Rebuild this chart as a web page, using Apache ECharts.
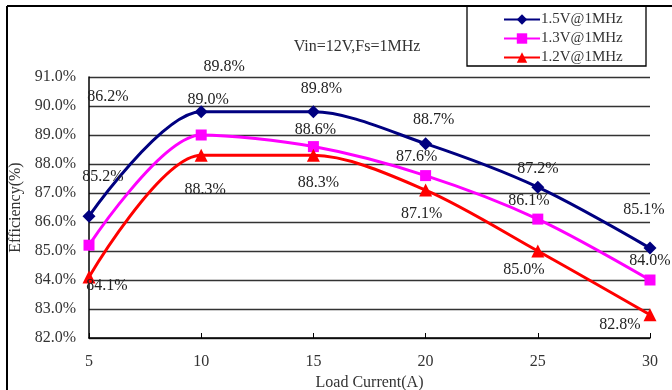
<!DOCTYPE html>
<html><head><meta charset="utf-8">
<script src="https://cdn.jsdelivr.net/npm/echarts@6/dist/echarts.min.js"></script>
<style>html,body{margin:0;padding:0;background:#fff}#c{width:672px;height:390px}</style>
</head><body><div id="c"></div>
<script>
const loadCurrent = [5, 10, 15, 20, 25, 30];
const eff15 = [86.2, 89.8, 89.8, 88.7, 87.2, 85.1];
const eff13 = [85.2, 89.0, 88.6, 87.6, 86.1, 84.0];
const eff12 = [84.1, 88.3, 88.3, 87.1, 85.0, 82.8];
const seriesNames = ['1.5V@1MHz', '1.3V@1MHz', '1.2V@1MHz'];
const yTicks = [82, 83, 84, 85, 86, 87, 88, 89, 90, 91];
const xTicks = [5, 10, 15, 20, 25, 30];

// label offsets (styling only, in px)
const off15 = [[19,-119],[23,-45],[8,-23],[8,-24],[0,-18],[-6,-38]];
const off13 = [[14,-68],[7,-35],[2,-17],[-9,-19],[-9,-18],[0,-19]];
const off12 = [[18,9],[4,34],[5,27],[-4,24],[-14,19],[-30,10]];

const font = '"Liberation Serif","DejaVu Serif",serif';
function build(vals, offs) {
  return vals.map((v, i) => ({ value: [loadCurrent[i], v], label: { offset: offs[i] } }));
}
function mk(name, vals, offs, color, symbol, size) {
  return {
    name, type: 'line', smooth: 0.3, data: build(vals, offs),
    symbol, symbolSize: size, lineStyle: { color, width: 3 }, itemStyle: { color },
    label: { show: true, position: 'inside', color: '#222', fontSize: 16, fontFamily: font,
      formatter: p => p.value[1].toFixed(1) + '%' },
    z: 3
  };
}
const chart = echarts.init(document.getElementById('c'));
chart.setOption({
  animation: false,
  backgroundColor: '#fff',
  grid: { left: 89, right: 22, top: 77, bottom: 52, outerBoundsMode: 'none', containLabel: false },
  title: { text: 'Vin=12V,Fs=1MHz', left: 352, top: 34, textAlign: 'center',
    textStyle: { fontFamily: font, fontSize: 16, fontWeight: 'normal', color: '#333' } },
  legend: {
    orient: 'vertical', left: 498, top: 7, itemWidth: 36, itemHeight: 13, itemGap: 4,
    data: seriesNames,
    textStyle: { fontFamily: font, fontSize: 15, lineHeight: 13, color: '#333', padding: [0,0,0,-4] }
  },
  xAxis: {
    type: 'value', min: xTicks[0], max: xTicks[xTicks.length-1], interval: 5,
    name: 'Load Current(A)', nameLocation: 'middle', nameGap: 33,
    nameTextStyle: { fontFamily: font, fontSize: 16, color: '#333' },
    axisLine: { lineStyle: { color: '#000', width: 1.5 } },
    axisTick: { inside: true, length: 5, lineStyle: { color: '#000' } },
    axisLabel: { fontFamily: font, fontSize: 16, color: '#333', margin: 16 },
    splitLine: { show: false }
  },
  yAxis: {
    type: 'value', min: yTicks[0], max: yTicks[yTicks.length-1], interval: 1,
    name: 'Efficiency(%)', nameLocation: 'middle', nameGap: 61, nameRotate: 90,
    nameTextStyle: { fontFamily: font, fontSize: 16, color: '#333' },
    axisLine: { show: true, lineStyle: { color: '#000', width: 1.5 } },
    axisTick: { show: false },
    axisLabel: { fontFamily: font, fontSize: 16, color: '#333', margin: 13,
      formatter: v => v.toFixed(1) + '%' },
    splitLine: { show: true, lineStyle: { color: '#333', width: 1.3 } }
  },
  graphic: [
    { type: 'line', shape: { x1: 7, y1: 6, x2: 672, y2: 6 }, style: { stroke: '#000', lineWidth: 2 } },
    { type: 'line', shape: { x1: 7, y1: 6, x2: 7, y2: 390 }, style: { stroke: '#000', lineWidth: 2 } },
    { type: 'rect', shape: { x: 467, y: 6, width: 179, height: 60 }, style: { fill: 'none', stroke: '#000', lineWidth: 1.3 }, z: 10 }
  ],
  series: [
    mk(seriesNames[0], eff15, off15, '#000080', 'diamond', 13),
    mk(seriesNames[1], eff13, off13, '#FF00FF', 'rect', 11),
    mk(seriesNames[2], eff12, off12, '#FF0000', 'triangle', 13)
  ]
});
</script></body></html>
